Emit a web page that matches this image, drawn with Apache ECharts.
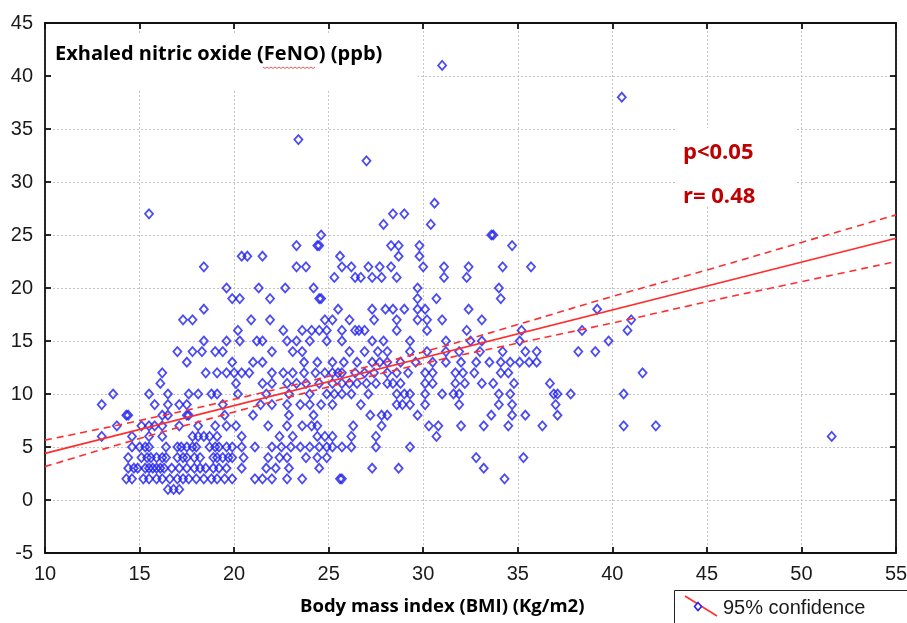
<!DOCTYPE html>
<html>
<head>
<meta charset="utf-8">
<script src="https://cdn.jsdelivr.net/npm/echarts@6/dist/echarts.min.js"></script>
<style>
html,body{margin:0;padding:0;background:#fff;}
#chart{width:907px;height:623px;}
</style>
</head>
<body>
<div id="chart"></div>
<script>
// ---- Data: BMI values (Kg/m2) of subjects at each FeNO level (ppb) ----
const feno01 = [16.5, 16.8, 17.1];
const feno02 = [14.3, 14.6, 15.2, 15.5, 15.9, 16.2, 16.6, 17.0, 17.3, 17.6, 18.0, 18.4, 18.8, 19.1, 19.5, 19.9, 21.1, 21.5, 22.0, 22.8, 23.6, 25.6, 25.7, 34.3];
const feno03 = [14.4, 14.7, 14.9, 15.3, 15.5, 15.7, 15.9, 16.1, 16.3, 16.7, 17.1, 17.5, 17.9, 18.2, 18.5, 18.9, 19.2, 19.6, 20.4, 21.7, 22.2, 22.9, 24.5, 27.3, 28.7, 33.2];
const feno04 = [14.4, 15.1, 15.4, 15.6, 15.9, 16.2, 16.4, 17.0, 17.3, 17.5, 17.9, 18.2, 18.9, 19.1, 19.4, 19.7, 19.9, 20.5, 21.8, 22.4, 22.8, 23.8, 24.4, 24.9, 32.8, 35.3];
const feno05 = [14.6, 15.0, 15.3, 15.5, 16.4, 17.0, 17.2, 17.5, 17.8, 18.0, 18.7, 19.0, 19.2, 19.6, 19.9, 20.4, 21.1, 22.0, 22.5, 23.0, 23.5, 24.0, 24.5, 24.9, 25.2, 25.7, 26.2, 27.5, 29.3];
const feno06 = [13.0, 14.6, 15.5, 16.2, 17.8, 18.1, 18.4, 18.7, 19.1, 20.4, 22.4, 23.1, 24.4, 24.8, 25.2, 26.2, 27.5, 30.7, 51.6];
const feno07 = [13.8, 15.1, 15.5, 15.8, 16.2, 17.1, 18.1, 19.0, 19.6, 20.1, 21.8, 22.8, 23.6, 24.1, 24.4, 26.3, 27.8, 30.3, 30.8, 32.0, 33.2, 34.5, 36.3, 40.6, 42.3];
const feno08 = [14.3, 14.4, 16.2, 16.5, 17.5, 17.6, 19.5, 21.0, 22.9, 24.2, 27.2, 27.8, 28.1, 29.7, 33.6, 34.7, 35.4, 37.1];
const feno09 = [13.0, 15.8, 16.5, 17.1, 17.5, 19.4, 21.4, 22.0, 22.8, 23.5, 24.0, 24.6, 25.2, 26.7, 28.6, 28.9, 29.3, 30.1, 31.9, 34.0, 34.7, 37.0];
const feno10 = [13.6, 15.5, 16.5, 17.6, 18.1, 18.8, 19.1, 20.2, 21.7, 22.9, 24.0, 24.9, 25.3, 25.7, 26.2, 27.1, 28.6, 29.0, 29.3, 30.1, 31.0, 31.6, 31.9, 34.0, 34.6, 36.9, 37.1, 37.8, 40.6];
const feno11 = [16.1, 20.1, 21.5, 22.0, 22.8, 23.3, 23.8, 24.5, 25.2, 25.7, 26.1, 26.5, 27.0, 27.5, 28.1, 28.4, 28.8, 30.1, 30.5, 31.7, 32.2, 33.1, 33.7, 34.8, 36.7];
const feno12 = [16.2, 18.5, 19.1, 19.6, 20.0, 20.4, 20.8, 22.0, 22.6, 23.1, 23.7, 24.3, 24.8, 25.2, 25.5, 25.7, 26.4, 26.9, 27.4, 28.1, 28.6, 29.2, 30.1, 30.5, 31.7, 32.1, 32.7, 34.1, 34.5, 41.6];
const feno13 = [17.5, 19.9, 21.0, 21.5, 23.7, 24.4, 25.2, 25.8, 26.5, 27.3, 27.7, 28.1, 28.8, 29.6, 30.5, 31.2, 32.0, 32.8, 33.5, 34.1, 34.6, 35.1, 35.6, 36.0];
const feno14 = [17.0, 17.8, 18.3, 19.0, 19.4, 22.0, 23.1, 23.6, 26.1, 26.9, 27.6, 28.1, 29.3, 30.2, 31.2, 31.9, 33.0, 34.2, 35.4, 36.0, 38.2, 39.1];
const feno15 = [18.4, 19.6, 20.3, 21.2, 21.5, 22.8, 23.3, 24.0, 24.9, 25.7, 27.3, 27.9, 29.3, 31.2, 32.5, 33.1, 35.1, 39.8];
const feno16 = [20.2, 22.6, 23.6, 24.1, 24.5, 24.9, 25.7, 26.4, 26.6, 26.9, 28.6, 30.2, 32.3, 35.2, 38.4, 40.8];
const feno17 = [17.3, 17.8, 20.9, 21.9, 24.8, 25.2, 26.1, 27.4, 28.6, 29.7, 30.2, 31.0, 33.1, 41.0];
const feno18 = [18.4, 25.5, 27.3, 28.0, 28.4, 29.0, 29.7, 30.1, 32.4, 39.2];
const feno19 = [19.9, 20.3, 21.9, 24.5, 24.6, 29.7, 30.7, 34.1];
const feno20 = [19.6, 21.3, 22.7, 24.2, 29.7, 34.0];
const feno21 = [25.3, 26.4, 26.7, 27.3, 27.8, 28.6, 31.1, 32.3];
const feno22 = [18.4, 23.3, 23.8, 25.7, 26.2, 27.1, 27.7, 28.3, 30.0, 31.1, 32.4, 34.2, 35.7];
const feno23 = [20.4, 20.7, 21.5, 25.6, 28.7, 29.8];
const feno24 = [23.3, 24.4, 24.5, 28.3, 28.7, 29.8, 34.7];
const feno25 = [24.6, 33.6, 33.7];
const feno26 = [27.9, 30.4];
const feno27 = [15.5, 28.4, 29.0];
const feno28 = [30.6];
const feno32 = [27.0];
const feno34 = [23.4];
const feno38 = [40.5];
const feno41 = [31.0];

const fenoRows = [
  [1, feno01], [2, feno02], [3, feno03], [4, feno04], [5, feno05], [6, feno06],
  [7, feno07], [8, feno08], [9, feno09], [10, feno10], [11, feno11], [12, feno12],
  [13, feno13], [14, feno14], [15, feno15], [16, feno16], [17, feno17], [18, feno18],
  [19, feno19], [20, feno20], [21, feno21], [22, feno22], [23, feno23], [24, feno24],
  [25, feno25], [26, feno26], [27, feno27], [28, feno28], [32, feno32], [34, feno34],
  [38, feno38], [41, feno41]
];

// Regression line and 95% confidence band
const fitBmi  = [10, 55];
const fitFeno = [4.4, 24.7];
const ciBmi   = [10, 15, 20, 25, 30, 35, 40, 45, 50, 55];
const ciUpper = [5.65, 7.5, 9.5, 11.67, 13.97, 16.55, 19.2, 21.7, 24.3, 26.9];
const ciLower = [3.15, 5.8, 8.3, 10.67, 12.87, 14.8, 16.7, 18.7, 20.6, 22.5];

// Axes
const xAxisRange = [10, 55, 5];
const yAxisRange = [-5, 45, 5];

// Texts
const yTitle = 'Exhaled nitric oxide (FeNO) (ppb)';
const xTitle = 'Body mass index (BMI) (Kg/m2)';
const statP = 'p<0.05';
const statR = 'r= 0.48';
const legendLabel = '95% confidence';

// ---- Build ----
const points = [];
fenoRows.forEach(([f, arr]) => arr.forEach(b => points.push([b, f])));
const fitLine = fitBmi.map((b, i) => [b, fitFeno[i]]);
const upLine = ciBmi.map((b, i) => [b, ciUpper[i]]);
const loLine = ciBmi.map((b, i) => [b, ciLower[i]]);

const BLUE = '#1e1ef0';
const RED = '#ff2e2e';
const DARKRED = '#c00000';
const TXT = '#1a1a1a';
const gridLine = { show: true, lineStyle: { color: '#c4c4c4', width: 1, type: [2, 2] } };
const frame = { show: true, onZero: false, lineStyle: { color: '#111', width: 1.8 } };
const tick = { show: true, inside: true, length: 6, lineStyle: { color: '#111', width: 1.8 } };
const labelFont = { fontFamily: '"Liberation Sans", Arial, sans-serif', fontSize: 20, color: TXT };

// wavy spell-check underline below "FeNO"
const squiggle = [];
for (let i = 0; i <= 26; i++) squiggle.push([263 + i * 2, 67 + (i % 2) * 1.5]);

const chart = echarts.init(document.getElementById('chart'), null, { renderer: 'canvas' });
chart.setOption({
  animation: false,
  backgroundColor: '#fff',
  grid: { left: 45, right: 11, top: 23, bottom: 70, containLabel: false, outerBoundsMode: 'none' },
  xAxis: [
    { type: 'value', min: xAxisRange[0], max: xAxisRange[1], interval: xAxisRange[2], position: 'bottom',
      axisLine: frame, axisTick: tick, splitLine: gridLine,
      axisLabel: Object.assign({ margin: 11 }, labelFont) },
    { type: 'value', min: xAxisRange[0], max: xAxisRange[1], interval: xAxisRange[2], position: 'top',
      axisLine: frame, axisTick: tick, splitLine: { show: false }, axisLabel: { show: false } }
  ],
  yAxis: [
    { type: 'value', min: yAxisRange[0], max: yAxisRange[1], interval: yAxisRange[2], position: 'left',
      axisLine: frame, axisTick: tick, splitLine: gridLine,
      axisLabel: Object.assign({ margin: 12 }, labelFont) },
    { type: 'value', min: yAxisRange[0], max: yAxisRange[1], interval: yAxisRange[2], position: 'right',
      axisLine: frame, axisTick: tick, splitLine: { show: false }, axisLabel: { show: false } }
  ],
  series: [
    { type: 'scatter', data: points, symbol: 'diamond', symbolSize: [8, 9], z: 3,
      itemStyle: { color: 'rgba(0,0,0,0)', borderColor: BLUE, borderWidth: 1.8 },
      emphasis: { disabled: true } },
    { type: 'line', data: fitLine, showSymbol: false, z: 4,
      lineStyle: { color: RED, width: 1.6 } },
    { type: 'line', data: upLine, showSymbol: false, smooth: true, z: 4,
      lineStyle: { color: RED, width: 1.6, type: [7, 5] } },
    { type: 'line', data: loLine, showSymbol: false, smooth: true, z: 4,
      lineStyle: { color: RED, width: 1.6, type: [7, 5] } }
  ],
  graphic: [
    { type: 'rect', z: 1, shape: { x: 52, y: 33, width: 366, height: 57 }, style: { fill: '#fff' } },
    { type: 'text', z: 10, x: 55, y: 54, style: { text: yTitle, font: 'bold 20px "Open Sans", sans-serif', fill: '#000', textVerticalAlign: 'middle' } },
    { type: 'polyline', z: 11, shape: { points: squiggle }, style: { stroke: '#e03030', lineWidth: 0.8, fill: null } },
    { type: 'rect', z: 1, shape: { x: 677, y: 128, width: 120, height: 79 }, style: { fill: '#fff' } },
    { type: 'text', z: 10, x: 683, y: 153, style: { text: statP, font: 'bold 22px "Open Sans", sans-serif', fill: DARKRED, textVerticalAlign: 'middle' } },
    { type: 'text', z: 10, x: 683, y: 197, style: { text: statR, font: 'bold 22px "Open Sans", sans-serif', fill: DARKRED, textVerticalAlign: 'middle' } },
    { type: 'text', z: 10, x: 300, y: 607, style: { text: xTitle, font: 'bold 18.5px "Open Sans", sans-serif', fill: '#000', textVerticalAlign: 'middle' } },
    { type: 'rect', z: 10, shape: { x: 674.5, y: 590.5, width: 260, height: 60 }, style: { fill: '#fff', stroke: '#222', lineWidth: 1 } },
    { type: 'polyline', z: 11, shape: { points: [[685, 596], [717, 616]] }, style: { stroke: RED, lineWidth: 1.5, fill: null } },
    { type: 'polygon', z: 12, shape: { points: [[698, 602.5], [701.5, 606.5], [698, 610.5], [694.5, 606.5]] }, style: { stroke: BLUE, lineWidth: 1.5, fill: '#fff' } },
    { type: 'text', z: 11, x: 723, y: 608, style: { text: legendLabel, font: '20px "Liberation Sans", Arial, sans-serif', fill: TXT, textVerticalAlign: 'middle' } }
  ]
});
</script>
</body>
</html>
